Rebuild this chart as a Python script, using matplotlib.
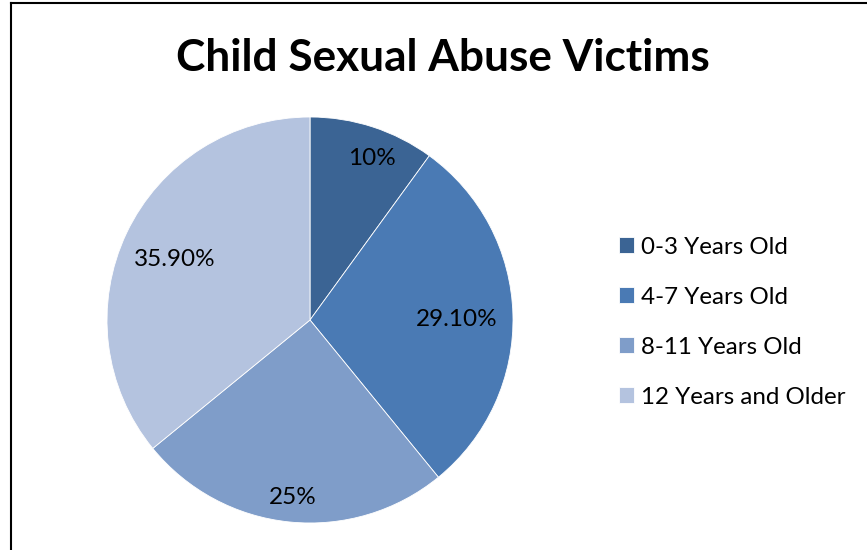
import matplotlib
matplotlib.use("Agg")
import matplotlib.pyplot as plt
from matplotlib.lines import Line2D

plt.rcParams['font.family'] = ['Lato', 'DejaVu Sans']

# data
categories = ['0-3 Years Old', '4-7 Years Old', '8-11 Years Old', '12 Years and Older']
values = [10, 29.1, 25, 35.9]
pct_labels = ['10%', '29.10%', '25%', '35.90%']
colors = ['#3B6494', '#4A7AB4', '#7F9DC9', '#B4C3DF']

W, H = 867, 550
fig = plt.figure(figsize=(W / 100, H / 100), dpi=100)

# pie axes: centre (310, 320), radius 203 px
cx, cy, r = 310, 320, 203
ax = fig.add_axes([(cx - r) / W, (H - cy - r) / H, 2 * r / W, 2 * r / H])
wedges, _ = ax.pie(values, colors=colors, startangle=90, counterclock=False,
                   radius=1, wedgeprops=dict(linewidth=0.6, edgecolor='white'))
ax.set_xlim(-1, 1)
ax.set_ylim(-1, 1)
ax.set_aspect('equal')
ax.axis('off')

# percentage labels (pixel positions from reference)
label_pos = [(372, 158), (457, 319), (293, 497), (175, 259)]
for (px, py), txt in zip(label_pos, pct_labels):
    fig.text(px / W, 1 - py / H, txt, ha='center', va='center', fontsize=17.5, color='black')

# title
fig.text(443 / W, 1 - 58 / H, 'Child Sexual Abuse Victims', ha='center', va='center',
         fontsize=31.8, fontweight='bold', color='black')

# legend
leg = fig.legend(wedges, categories, loc='center left',
                 bbox_to_anchor=(619 / W, 1 - 322 / H), frameon=False,
                 fontsize=17.4, handlelength=0.62, handleheight=0.62,
                 handletextpad=0.3, labelspacing=1.2, borderaxespad=0,
                 borderpad=0)

# chart border (left and top visible)
fig.add_artist(Line2D([10.5 / W, 10.5 / W], [0, 1 - 3 / H], color='black', lw=1.5))
fig.add_artist(Line2D([10.5 / W, 1], [1 - 3 / H, 1 - 3 / H], color='black', lw=1.5))

fig.savefig('out.png', dpi=100)
